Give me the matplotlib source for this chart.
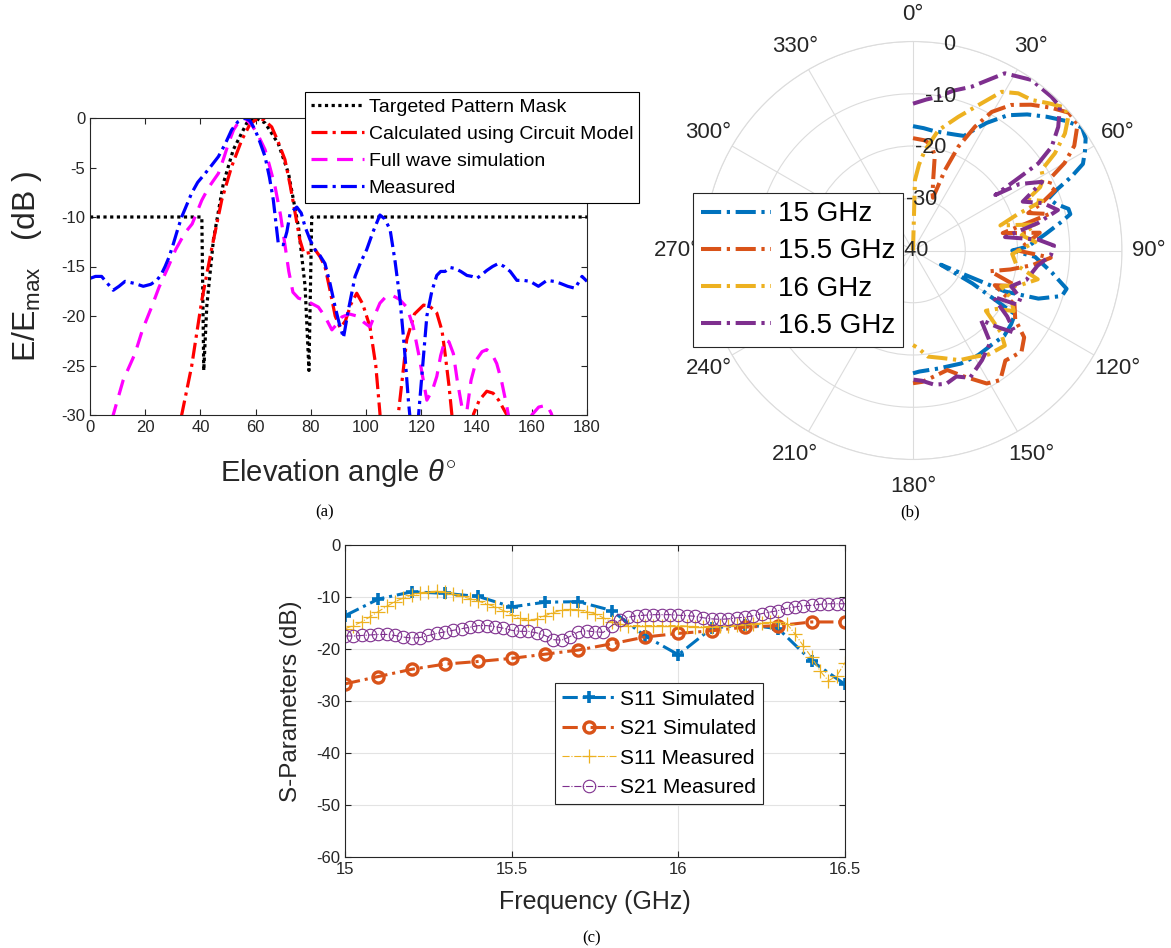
import numpy as np
import matplotlib
matplotlib.use("Agg")
import matplotlib.pyplot as plt

plt.rcParams['font.family'] = ['Liberation Sans', 'DejaVu Sans']
plt.rcParams['mathtext.fontset'] = 'custom'
plt.rcParams['mathtext.rm'] = 'Liberation Sans'
plt.rcParams['mathtext.it'] = 'Liberation Sans:italic'
plt.rcParams['axes.unicode_minus'] = False

# ---------------- (a) pattern vs elevation angle ----------------
mask_x = [0, 40.5, 41.2, 42.3, 44.7, 48.3, 51.9, 56.8, 60, 63.4, 68.2, 71.9, 75.5, 77.9, 79.3, 80.3, 180]
mask_y = [-10, -10, -25.5, -19, -12.3, -6.6, -3.2, -0.5, 0, -0.5, -2.6, -5.6, -11, -17, -25.5, -10, -10]

circ_x = [30, 33.2, 36.8, 40.5, 44, 47.7, 51.3, 55, 58, 61,
          63, 65.8, 68, 70.6, 72.5, 74.3, 76, 77.5, 79.5, 81.5,
          83.3, 85.1, 87, 88.8, 90.6, 92.5, 94.5, 96.6, 98.8, 101.4,
          103.5, 105, 108.3, 111.7, 114.7, 117.5, 120.8, 123, 125.6, 127.5,
          128.6, 130, 131, 135, 138.9, 141, 143.7, 146, 148, 150,
          152, 155]
circ_y = [-36, -30, -25.1, -18.4, -13.3, -8.3, -4.9, -2.2, -0.6, 0,
          -0.2, -0.9, -2.3, -4.2, -6.8, -9.6, -12.3, -13.7, -13.6, -13.3,
          -14, -15, -17.5, -20, -21.2, -20.5, -18.8, -17.7, -18.8, -21.1,
          -25, -29.8, -45, -29.8, -22.4, -19.8, -18.9, -19, -19.7, -21.5,
          -23.8, -27, -29.8, -40, -29.9, -28.5, -27.6, -27.8, -28.5, -29.5,
          -30.5, -34]

fw_x = [6, 8.4, 12, 16.3, 19, 22.3, 25, 28.4, 31, 34.4,
        37, 40.5, 43, 46.5, 48.5, 50.1, 52, 54.3, 56, 58.6,
        61, 63.4, 65, 67, 69, 70.7, 72, 73.5, 75.5, 77.9,
        80, 82.7, 85, 87.6, 89.5, 91.2, 94, 96.6, 99, 101.4,
        103, 105, 107, 109.3, 112, 114.7, 117, 119, 122, 124,
        125.6, 127, 128.6, 130, 131.6, 133, 134.7, 136.5, 138, 140,
        142, 143.7, 145.5, 147.3, 149, 151, 155.5, 160, 162.5, 165.5,
        167, 168.5, 171]
fw_y = [-33, -30, -26.5, -23.8, -21.4, -19.1, -17.1, -15, -13.3, -11.6,
        -10.7, -8.3, -7, -5.6, -4, -2.6, -1.2, -0.2, 0, -0.7,
        -1.8, -3.2, -4.8, -6.9, -9.8, -13, -15.5, -17.6, -18.2, -18.4,
        -18.7, -19.1, -20, -21.4, -20.8, -20.1, -19.8, -20, -20.6, -21.1,
        -20, -18.7, -18.1, -17.9, -18.3, -19.1, -21, -23.8, -28.5, -27.5,
        -26.1, -24, -22.4, -22.6, -23.8, -26.5, -29.2, -29.6, -26.5, -24.4,
        -23.6, -23.4, -23.8, -24.8, -26.5, -29.2, -36, -30, -29.2, -29,
        -29.8, -31, -35]

meas_x = [0, 2, 4.2, 6, 8.4, 10.5, 12.7, 16, 19.3, 22,
          24.2, 25.8, 27.2, 28.7, 30.2, 31.7, 33.2, 35, 36.8, 39,
          41.7, 44, 46.5, 49, 51.3, 53.5, 56.2, 58, 59.8, 61.5,
          63.4, 65, 66.4, 67.3, 68.2, 70, 71.3, 72.5, 74.9, 76.5,
          77.9, 79.7, 81.5, 83.3, 85.1, 87, 88.8, 90.3, 91.8, 93.5,
          96, 98, 100.2, 102.5, 105, 106.8, 108.7, 110.5, 112.3, 113.8,
          115.3, 116.5, 117.8, 119, 120.5, 122, 123.8, 125.6, 127, 128.6,
          130.4, 132.2, 134.3, 136.5, 138.3, 140.1, 142, 143.7, 145.8, 147.9,
          150, 152.2, 154.6, 157, 159.4, 162.4, 165.5, 168, 170.3, 173,
          175.7, 178.2, 180]
meas_y = [-16.2, -16.0, -16.0, -16.6, -17.4, -17.0, -16.5, -16.7, -17.0, -16.8,
          -16.4, -15.8, -15.0, -14.0, -12.7, -11.3, -10.0, -8.8, -7.6, -6.5,
          -5.6, -4.8, -3.9, -2.6, -1.2, -0.4, 0, -0.3, -1.2, -2.4,
          -3.9, -6.0, -8.3, -10.5, -12.7, -12.8, -11.5, -9.6, -9.0, -9.6,
          -11.0, -12.3, -13.3, -13.9, -14.7, -16.8, -19.1, -20.8, -22.2, -19.5,
          -16.0, -14.6, -13.3, -11.5, -9.8, -10.2, -11.3, -14.5, -18.4, -23.0,
          -28.5, -32.0, -33.0, -30.0, -25.0, -20.0, -17.5, -15.9, -15.5, -15.5,
          -15.1, -15.2, -15.5, -15.9, -16.0, -16.2, -15.8, -15.4, -15.0, -14.7,
          -15.0, -15.5, -16.4, -16.4, -16.5, -17.0, -16.4, -16.5, -16.7, -17.0,
          -17.2, -16.0, -16.5]

# ---------------- (b) polar patterns (deg, dB) ----------------
p15_t = [0, 5, 10, 15, 20, 24, 27, 30, 35, 40, 45, 50, 54, 57, 60, 63, 65, 67, 69, 72,
         75, 77, 79, 83, 88, 90, 93, 99, 104, 107, 111, 114, 117, 119, 122, 127, 133, 140,
         148, 157, 168, 177, 180]
p15_r = [-16.2, -16.5, -16.8, -16.7, -16.4, -16.0, -14.0, -11.8, -8.4, -6.0,
         -3.8, -1.5, 0.0, -0.6, -2.0, -3.5, -6.5, -10.0, -12.2, -11.2,
         -9.2, -9.1, -11.0, -14.5, -18.0, -21.0, -16.6, -13.1, -9.7, -10.2,
         -14.3, -20.7, -34.0, -27.0, -17.0, -16.5, -16.1, -16.5, -16.4, -16.5,
         -16.9, -16.8, -16.5]

p155_t = [0, 6, 10, 13, 16, 19, 20.7, 21.7, 23.6, 26.6,
          29.6, 34, 39, 44, 48.5, 52.5, 57, 60, 62, 64.5,
          67, 70, 72, 75, 79, 82, 86, 90, 93, 97,
          101, 105, 109, 113, 118, 124, 128, 133, 140, 146,
          151, 158, 164, 171, 176, 180]
p155_r = [-18.5, -18.8, -19.5, -21.5, -26, -28.5, -29.2, -23.4, -18.3, -13.5,
          -9.5, -6.4, -4.1, -2.0, -0.2, -0.3, -3.2, -6.5, -9.9, -11.2,
          -10.5, -14, -16.8, -13, -22.5, -15.5, -18, -20, -13.6, -17,
          -21, -24.7, -19, -23, -18, -16.4, -13, -11.6, -12.5, -10.1,
          -10.9, -14, -16.2, -15.5, -14.8, -14.6]

p16_t = [0, 1.6, 4, 6.8, 11.9, 18.7, 25, 29.2, 33.8, 38.3,
         42.6, 46.6, 49.3, 52.4, 55.6, 58, 61, 63.5, 66, 69,
         71, 74, 78, 82, 86, 92, 98, 103, 108, 112,
         116, 121, 125, 129.6, 133, 136, 144, 150, 157, 165,
         172, 177, 180]
p16_r = [-40, -26.5, -23.5, -20.7, -16.5, -13, -8.9, -5.2, -3.8, -3.3,
         -1.7, -0.1, -0.8, -3.3, -7.1, -11, -11.5, -12.8, -16, -13.5,
         -19, -22.6, -16, -19, -16.5, -21, -20, -15.5, -18.5, -21.8,
         -19.1, -17.5, -20.5, -21.9, -17, -14.7, -15.4, -16.5, -17.2, -18.7,
         -19.5, -21.3, -21.9]

p165_t = [0, 5, 9.3, 14, 19.7, 24, 27.4, 34.8, 42, 45.6,
          49.6, 53.2, 55.2, 55.6, 56, 58, 62, 66, 70, 74.4,
          77.6, 81.7, 85, 88, 92, 97, 104.6, 110, 114, 117.4,
          120, 125, 128.9, 132, 135.6, 140, 147.8, 155.9, 161, 166,
          171, 176, 180]
p165_r = [-11.9, -11, -10.2, -8.5, -6.7, -4.2, -1.8, -0.25, -0.4, -0.65,
          -3.5, -6.85, -10.8, -16.3, -21, -16, -12, -17, -13.5, -11.2,
          -15.5, -22.2, -16, -13, -13.6, -16, -17.6, -20, -17.5, -17.4,
          -22.3, -18, -14.9, -18, -21.4, -17, -15.2, -13.3, -14.5, -13.7,
          -14, -15, -15.3]

# ---------------- (c) S-parameters ----------------
f_sim = [15.0, 15.1, 15.2, 15.3, 15.4, 15.5, 15.6, 15.7, 15.8, 15.9, 16.0, 16.1, 16.2, 16.3, 16.4, 16.5]
s11_sim = [-13.6, -10.4, -9.0, -9.3, -9.9, -11.9, -11.0, -10.9, -12.6, -17.5, -21.1, -16.0, -15.3, -16.1, -22.3, -26.8]
s21_sim = [-26.7, -25.3, -23.9, -22.9, -22.4, -21.8, -21.0, -20.2, -19.0, -17.7, -17.0, -16.5, -15.8, -15.5, -14.8, -14.8]

f_meas = np.linspace(15.0, 16.5, 61)
s11_meas = [-16.1, -15.5, -14.8, -13.8, -12.8, -11.8, -10.9, -10.2, -9.6, -9.2,
            -9.0, -8.9, -9.1, -9.4, -9.9, -10.3, -10.8, -11.3, -11.9, -12.6,
            -13.4, -14.1, -14.5, -14.2, -13.6, -13.0, -12.5, -12.4, -12.5, -12.8,
            -13.2, -14.0, -14.8, -15.2, -15.5, -15.5, -15.5, -15.5, -15.5, -15.5,
            -15.5, -15.6, -15.7, -15.7, -15.7, -15.6, -15.5, -15.3, -15.2, -15.1,
            -15.0, -14.9, -14.8, -15.1, -17.1, -19.4, -21.6, -24.2, -26.1, -25.2,
            -22.6]
s21_meas = [-17.5, -17.5, -17.4, -17.3, -17.2, -17.2, -17.4, -17.7, -17.9, -17.8,
            -17.4, -17.0, -16.7, -16.4, -16.1, -15.8, -15.5, -15.5, -15.7, -16.0,
            -16.4, -16.6, -16.6, -16.9, -17.4, -18.2, -18.3, -17.6, -16.7, -16.5,
            -16.7, -16.8, -15.5, -14.5, -13.9, -13.6, -13.5, -13.4, -13.4, -13.4,
            -13.5, -13.6, -13.7, -14.0, -14.2, -14.3, -14.2, -14.0, -13.9, -13.6,
            -13.2, -12.9, -12.6, -12.2, -11.9, -11.7, -11.6, -11.4, -11.3, -11.3,
            -11.3]

W, H = 1171, 948
dark = '#262626'
fig = plt.figure(figsize=(W / 100, H / 100), dpi=100)

# ---- panel (a)
ax_a = fig.add_axes([90 / W, 1 - 415 / H, 497 / W, 297 / H])
ax_a.plot(mask_x, mask_y, color='black', lw=2.3, dashes=(1, 1.1), label='Targeted Pattern Mask')
ax_a.plot(circ_x, circ_y, color='#ff0000', lw=2.3, dashes=(5, 1.6, 1, 1.6), label='Calculated using Circuit Model')
ax_a.plot(fw_x, fw_y, color='#ff00ff', lw=2.3, dashes=(5, 3), label='Full wave simulation')
ax_a.plot(meas_x, meas_y, color='#0000ff', lw=2.3, dashes=(5, 1.6, 1, 1.6), label='Measured')
ax_a.set_xlim(0, 180)
ax_a.set_ylim(-30, 0)
ax_a.set_xticks(range(0, 181, 20))
ax_a.set_yticks(range(-30, 1, 5))
ax_a.tick_params(direction='in', top=True, right=True, labelsize=12, colors=dark, length=4)
for s in ax_a.spines.values():
    s.set_color(dark)
    s.set_linewidth(0.8)
ax_a.set_xlabel(r'Elevation angle $\theta^{\circ}$', fontsize=21, color=dark, va='center')
ax_a.xaxis.set_label_coords(0.5, (415 - 473) / 297)
ax_a.set_ylabel(r'E/E$_{\mathrm{max}}$   (dB )', fontsize=23, color=dark, va='center')
ax_a.yaxis.set_label_coords((27 - 90) / 497, 0.5)
leg_a = ax_a.legend(loc='upper left', bbox_to_anchor=(305 / W, 1 - 92 / H), bbox_transform=fig.transFigure,
                    borderaxespad=0, fontsize=14, handlelength=2.7, handletextpad=0.25, labelspacing=0.48,
                    borderpad=0.32, fancybox=False, framealpha=1, edgecolor='black')
leg_a.get_frame().set_linewidth(0.8)

# ---- panel (b)
R = 209
ax_b = fig.add_axes([(913 - R) / W, 1 - (250.5 + R) / H, 2 * R / W, 2 * R / H], projection='polar')
colors = ['#0072BD', '#D95319', '#EDB120', '#7E2F8E']
series = [(p15_t, p15_r, '15 GHz'), (p155_t, p155_r, '15.5 GHz'),
          (p16_t, p16_r, '16 GHz'), (p165_t, p165_r, '16.5 GHz')]
for (t, r, lab), c in zip(series, colors):
    ax_b.plot(np.deg2rad(t), r, color=c, lw=2.9, dashes=(5, 1.4, 0.8, 1.4), label=lab)
ax_b.set_theta_zero_location('N')
ax_b.set_theta_direction(-1)
ax_b.set_rlim(-40, 0)
ax_b.set_rticks([-40, -30, -20, -10, 0])
ax_b.set_yticklabels([])
ax_b.set_thetagrids(range(0, 360, 30), labels=[f'{a}°' for a in range(0, 360, 30)])
ax_b.tick_params(axis='x', labelsize=16, colors=dark, pad=9)
ax_b.grid(True, color='#dcdcdc', lw=0.8)
ax_b.spines['polar'].set_color('#dcdcdc')
ax_b.spines['polar'].set_linewidth(0.8)
for rv in [-40, -30, -20, -10, 0]:
    ax_b.text(np.deg2rad(10), rv, str(rv), fontsize=15.5, color=dark, ha='center', va='center')
leg_b = ax_b.legend(loc='upper left', bbox_to_anchor=(693 / W, 1 - 193 / H), bbox_transform=fig.transFigure,
                    borderaxespad=0, fontsize=20, handlelength=2.5, handletextpad=0.25, labelspacing=0.4,
                    borderpad=0.3, fancybox=False, framealpha=1, edgecolor=dark)
leg_b.get_frame().set_linewidth(0.8)

# ---- panel (c)
ax_c = fig.add_axes([345 / W, 1 - 857 / H, 500 / W, 312 / H])
ax_c.plot(f_sim, s11_sim, color='#0072BD', lw=2.2, dashes=(5, 1.6, 1, 1.6), marker='+', ms=8, mew=2.6,
          label='S11 Simulated')
ax_c.plot(f_sim, s21_sim, color='#D95319', lw=2.2, dashes=(5, 1.6, 1, 1.6), marker='o', ms=8, mew=2.4,
          mfc='none', label='S21 Simulated')
ax_c.plot(f_meas, s11_meas, color='#EDB120', lw=0.8, ls='-.', marker='+', ms=9.5, mew=0.9,
          label='S11 Measured')
ax_c.plot(f_meas, s21_meas, color='#7E2F8E', lw=0.8, ls='-.', marker='o', ms=9, mew=0.8, mfc='none',
          label='S21 Measured')
ax_c.set_xlim(15, 16.5)
ax_c.set_ylim(-60, 0)
ax_c.set_xticks([15, 15.5, 16, 16.5])
ax_c.set_xticklabels(['15', '15.5', '16', '16.5'])
ax_c.set_yticks(range(-60, 1, 10))
ax_c.grid(True, color='#e3e3e3', lw=0.8)
ax_c.tick_params(direction='in', top=True, right=True, labelsize=12, colors=dark, length=4)
for s in ax_c.spines.values():
    s.set_color(dark)
    s.set_linewidth(0.8)
ax_c.set_xlabel('Frequency (GHz)', fontsize=18, color=dark, va='center')
ax_c.xaxis.set_label_coords(0.5, (857 - 902) / 312)
ax_c.set_ylabel('S-Parameters (dB)', fontsize=17.5, color=dark, va='center')
ax_c.yaxis.set_label_coords((291 - 345) / 500, 0.5)
leg_c = ax_c.legend(loc='upper left', bbox_to_anchor=(555 / W, 1 - 683 / H), bbox_transform=fig.transFigure,
                    borderaxespad=0, fontsize=15, handlelength=2.6, handletextpad=0.2, labelspacing=0.5,
                    borderpad=0.32, fancybox=False, framealpha=1, edgecolor=dark)
leg_c.get_frame().set_linewidth(0.8)

# captions
for txt, x, y in [('(a)', 325, 512), ('(b)', 910, 512), ('(c)', 592, 938)]:
    fig.text(x / W, 1 - y / H, txt, family='Liberation Serif', fontsize=12, ha='center', va='center')

fig.savefig('out.png', dpi=100)
